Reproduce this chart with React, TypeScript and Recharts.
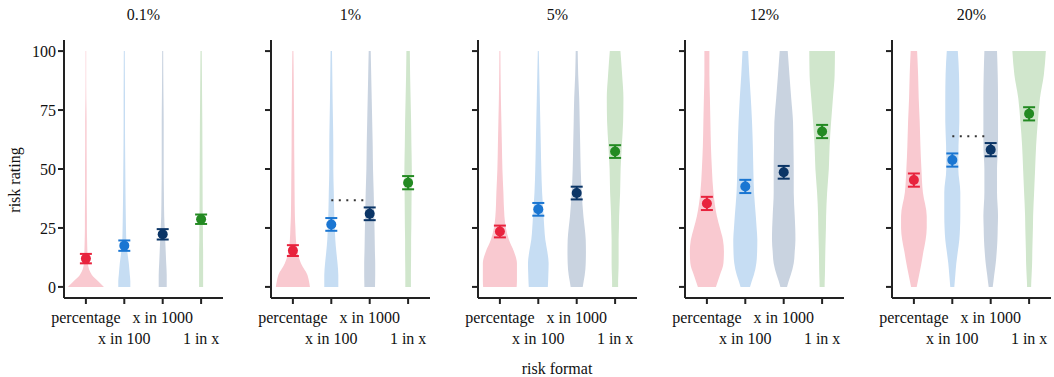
import { ComposedChart, Area, Scatter, ErrorBar, XAxis, YAxis, ReferenceLine } from 'recharts';

const panels = ['0.1%', '1%', '5%', '12%', '20%'];
const formats = ['percentage', 'x in 100', 'x in 1000', '1 in x'];

// mean risk rating and its error per panel, per format
const means = [
  [12.0, 17.5, 22.3, 28.7],
  [15.4, 26.5, 31.0, 44.2],
  [23.5, 32.9, 39.8, 57.4],
  [35.4, 42.6, 48.6, 65.9],
  [45.3, 53.8, 58.2, 73.4],
];
const errs = [
  [2.0, 2.2, 2.2, 2.0],
  [2.3, 2.7, 2.7, 2.8],
  [2.5, 2.7, 2.7, 2.7],
  [2.8, 2.8, 2.7, 2.8],
  [2.8, 2.8, 2.8, 2.8],
];

// violin density (half width) at each rating level
const levels = [0, 2.5, 5, 10, 15, 20, 25, 30, 40, 50, 60, 70, 80, 90, 100];
const density = [
  [
    [18, 12, 6, 2, 1.5, 1.2, 1, 1, 0.8, 0.8, 0.7, 0.7, 0.4, 0.3, 0.3],
    [6, 6, 5.5, 4.5, 3, 2, 1.7, 1.5, 1.2, 1, 0.8, 0.7, 0.7, 0.6, 0.5],
    [4, 4, 4, 3.5, 3, 2.5, 2, 1.5, 1.2, 1, 1, 1, 0.8, 0.6, 0.5],
    [2, 2, 2, 2, 2, 1.8, 1.8, 1.6, 1.5, 1.4, 1.3, 1.2, 1, 0.8, 0.6],
  ],
  [
    [17, 16, 14.5, 8, 4.5, 3, 2.5, 2, 1.7, 1.5, 1.3, 1.2, 1, 0.8, 0.5],
    [7, 7, 7, 6.2, 5, 4, 3.5, 3, 2.5, 2, 2, 1.7, 1.3, 1, 0.7],
    [5.3, 5.4, 5.5, 5.5, 5.2, 5, 4.8, 4.5, 4, 3.3, 3, 2.5, 2, 1.5, 1],
    [2.8, 2.8, 2.8, 2.9, 3, 3, 3.2, 3.3, 3.5, 3.7, 3.3, 3, 2.5, 2, 1.7],
  ],
  [
    [16.7, 17, 17, 17, 14, 9, 6, 4.5, 3.5, 2.5, 2, 1.5, 1, 0.7, 0.5],
    [9.5, 9.8, 10, 10.3, 9, 7, 6, 5.3, 3.8, 3, 2.5, 2, 1.5, 1, 0.5],
    [6, 7, 8, 9, 9.2, 9, 8, 6.7, 5, 4, 3.5, 3, 2.5, 1.5, 1],
    [3, 3, 3.2, 3.5, 3.5, 3.5, 3.8, 4, 5, 5.5, 6.7, 8, 8.3, 7, 5.3],
  ],
  [
    [9, 11, 13, 16.5, 17, 16, 13, 10, 6.5, 5, 4, 3.5, 3, 2.5, 2.5],
    [4.7, 6.5, 8.5, 11, 11.8, 12, 11.3, 10.5, 8.7, 8, 7.5, 6.7, 5.5, 4, 2.8],
    [3.3, 5, 7, 10, 11, 11.7, 11.5, 11, 10, 10, 9.7, 9.3, 7.5, 5.7, 4],
    [2.5, 2.6, 2.8, 3, 3.2, 3.5, 3.8, 4, 5, 6.7, 7.5, 9, 10.8, 12.5, 12.8],
  ],
  [
    [2.8, 4, 5.2, 7.5, 9.5, 11.7, 12.8, 12.8, 9, 7.5, 6.5, 5.8, 4.8, 4.2, 3.2],
    [2, 2.5, 3, 4, 5.5, 7, 7.7, 8, 8, 6, 6.2, 7, 7, 6.7, 5.5],
    [2, 2.8, 3.5, 5, 6, 6.7, 7, 7.3, 6.3, 6.3, 7.3, 7.3, 7.3, 7, 6.3],
    [2, 2.2, 2.5, 3, 3.2, 3.5, 3.8, 4, 5, 6, 7, 8.7, 10.8, 14.7, 16.7],
  ],
];

// dotted comparison line (panel index, rating, from, to)
const bridges = [
  { panel: 1, rating: 36.7, from: 2, to: 2.88 },
  { panel: 4, rating: 63.9, from: 2, to: 2.88 },
];

const pointColors = ['#e8233d', '#1a76d2', '#0b3566', '#238a22'];
const violinColors = ['#f9c9d0', '#c6ddf3', '#c9d3e0', '#d0e6cc'];
const densityScale = 38.3;
const font = '"Liberation Serif", "DejaVu Serif", serif';

const PANEL_STEP = 207;
const AXIS_X = 64;
const Y_W = 50;

function FormatTick({ x, y, payload }: any) {
  const i = Math.round(payload.value) - 1;
  return (
    <text x={x} y={y + (i % 2 === 0 ? 17 : 38)} textAnchor="middle" fontSize={16} fontFamily={font} fill="#111">
      {formats[i]}
    </text>
  );
}

function Panel({ idx }: { idx: number }) {
  const rows = levels.map((lv, li) => {
    const row: any = { y: lv };
    formats.forEach((_, f) => {
      const w = density[idx][f][li] / densityScale;
      row['v' + f] = [f + 1 - w, f + 1 + w];
    });
    return row;
  });
  const bridge = bridges.find((b) => b.panel === idx);
  return (
    <div style={{ position: 'absolute', left: AXIS_X + PANEL_STEP * idx - Y_W, top: 0 }}>
      <ComposedChart
        width={211}
        height={377}
        layout="vertical"
        data={rows}
        margin={{ top: 40, right: 2, bottom: 29, left: 0 }}
      >
        <XAxis
          type="number"
          domain={[0.43, 4.57]}
          ticks={[1, 2, 3, 4]}
          allowDataOverflow
          height={50}
          tick={<FormatTick />}
          interval={0}
          stroke="#222"
          strokeWidth={2}
          tickSize={6}
        />
        <YAxis
          type="number"
          dataKey="y"
          domain={[-4.7, 104.7]}
          ticks={[0, 25, 50, 75, 100]}
          reversed
          allowDataOverflow
          width={Y_W}
          stroke="#222"
          strokeWidth={2}
          tickSize={6}
          tick={idx === 0 ? { fontSize: 16, fontFamily: font, fill: '#111' } : () => <g />}
        />
        {formats.map((f, fi) => (
          <Area
            key={f}
            dataKey={'v' + fi}
            type="monotone"
            stroke="none"
            fill={violinColors[fi]}
            fillOpacity={1}
            isAnimationActive={false}
            dot={false}
            activeDot={false}
          />
        ))}
        {bridge && (
          <ReferenceLine
            segment={[
              { x: bridge.from, y: bridge.rating },
              { x: bridge.to, y: bridge.rating },
            ]}
            stroke="#333"
            strokeWidth={2}
            strokeDasharray="2 5.5"
          />
        )}
        {formats.map((f, fi) => (
          <Scatter
            key={f}
            data={[{ x: fi + 1, y: means[idx][fi], err: errs[idx][fi] }]}
            dataKey="x"
            fill={pointColors[fi]}
            isAnimationActive={false}
            shape={(p: any) => <circle cx={p.cx} cy={p.cy} r={5} fill={pointColors[fi]} />}
          >
            <ErrorBar dataKey="err" direction="y" width={6} stroke={pointColors[fi]} strokeWidth={2} />
          </Scatter>
        ))}
      </ComposedChart>
      <div
        style={{
          position: 'absolute',
          left: Y_W,
          width: 159,
          top: 6,
          textAlign: 'center',
          fontFamily: font,
          fontSize: 16,
          color: '#111',
        }}
      >
        {panels[idx]}
      </div>
    </div>
  );
}

export default function App() {
  return (
    <div style={{ position: 'absolute', left: 0, top: 0, width: 1054, height: 377, overflow: 'hidden', background: '#fff' }}>
      {panels.map((p, i) => (
        <Panel key={p} idx={i} />
      ))}
      <div
        style={{
          position: 'absolute',
          left: 15,
          top: 180,
          transform: 'translate(-50%, -50%) rotate(-90deg)',
          fontFamily: font,
          fontSize: 16,
          color: '#111',
          whiteSpace: 'nowrap',
        }}
      >
        risk rating
      </div>
      <div
        style={{
          position: 'absolute',
          left: 557,
          top: 369,
          transform: 'translate(-50%, -50%)',
          fontFamily: font,
          fontSize: 16,
          color: '#111',
          whiteSpace: 'nowrap',
        }}
      >
        risk format
      </div>
    </div>
  );
}
